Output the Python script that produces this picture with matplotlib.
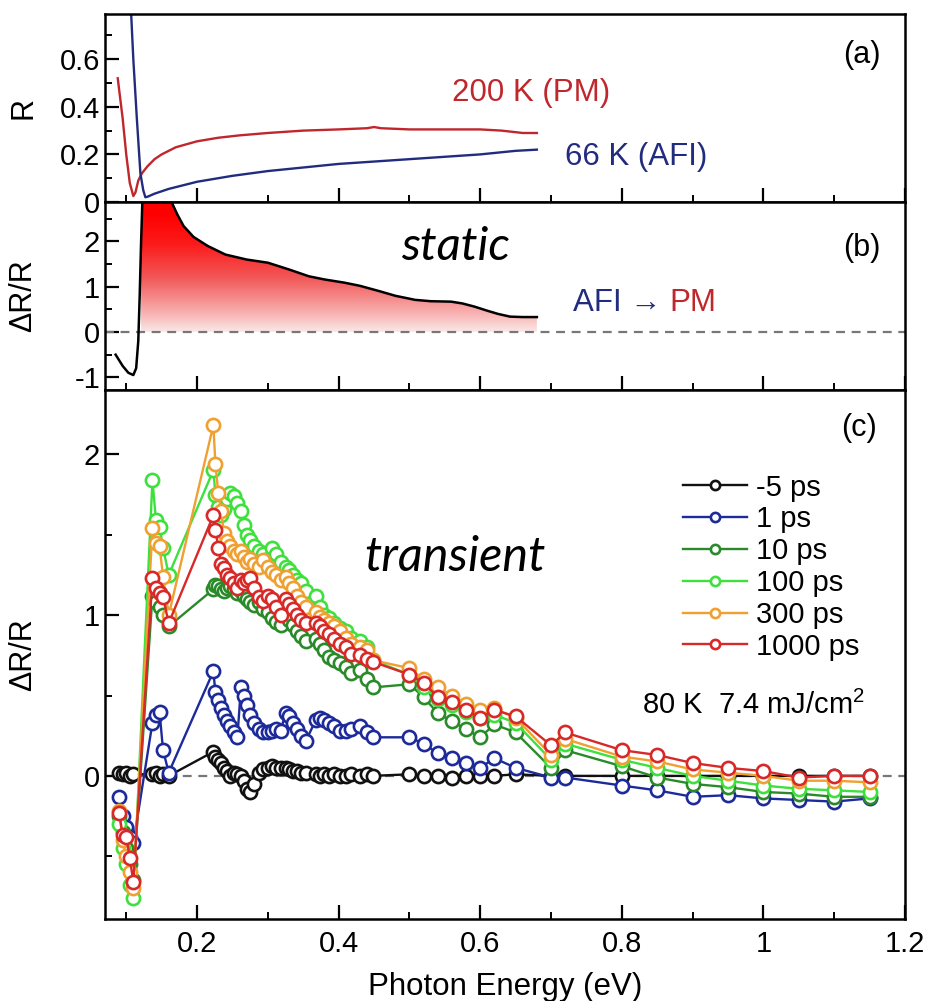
import numpy as np
import matplotlib
matplotlib.use("Agg")
import matplotlib.pyplot as plt
from matplotlib.colors import LinearSegmentedColormap
from matplotlib.ticker import MultipleLocator, FuncFormatter

plt.rcParams["font.family"] = ["Liberation Sans", "DejaVu Sans"]
plt.rcParams["mathtext.fontset"] = "custom"
plt.rcParams["mathtext.rm"] = "Liberation Sans"
plt.rcParams["axes.unicode_minus"] = False

# ---- panel (a): static reflectivity ----
e_pm = [0.088, 0.095, 0.100, 0.105, 0.110, 0.113, 0.117, 0.122, 0.130, 0.140, 0.150,
        0.170, 0.200, 0.230, 0.260, 0.300, 0.350, 0.400, 0.440, 0.450, 0.460, 0.500,
        0.550, 0.600, 0.630, 0.660, 0.680]
r_pm = [0.52, 0.35, 0.20, 0.08, 0.025, 0.04, 0.09, 0.12, 0.15, 0.18, 0.20,
        0.23, 0.255, 0.27, 0.28, 0.29, 0.30, 0.305, 0.31, 0.315, 0.31, 0.305,
        0.305, 0.305, 0.30, 0.29, 0.29]
e_afi = [0.106, 0.110, 0.115, 0.120, 0.124, 0.127, 0.130, 0.140, 0.160, 0.200, 0.250,
         0.300, 0.350, 0.400, 0.450, 0.500, 0.550, 0.600, 0.650, 0.680]
r_afi = [0.85, 0.60, 0.35, 0.12, 0.05, 0.02, 0.022, 0.035, 0.055, 0.085, 0.11,
         0.13, 0.145, 0.16, 0.17, 0.18, 0.19, 0.20, 0.215, 0.22]

# ---- panel (b): static dR/R ----
e_static = [0.085, 0.095, 0.103, 0.110, 0.114, 0.117, 0.119, 0.121, 0.123, 0.130, 0.140,
            0.150, 0.164, 0.172, 0.181, 0.195, 0.215, 0.240, 0.270, 0.300, 0.330, 0.358,
            0.380, 0.408, 0.430, 0.458, 0.480, 0.508, 0.530, 0.559, 0.575, 0.592, 0.610,
            0.625, 0.642, 0.660, 0.680]
dr_static = [-0.50, -0.75, -0.90, -0.95, -0.80, -0.20, 0.80, 2.00, 3.00, 4.00, 3.80,
             3.40, 2.87, 2.60, 2.34, 2.10, 1.90, 1.71, 1.60, 1.53, 1.38, 1.23,
             1.16, 1.09, 1.02, 0.90, 0.80, 0.71, 0.68, 0.67, 0.63, 0.56, 0.47,
             0.40, 0.34, 0.33, 0.33]

# ---- panel (c): transient dR/R ----
energy = [0.090, 0.095, 0.100, 0.105, 0.110,
          0.137, 0.142, 0.147, 0.152, 0.160,
          0.223, 0.226, 0.230, 0.234, 0.238, 0.242, 0.247, 0.252, 0.257,
          0.262, 0.266, 0.270, 0.275, 0.280, 0.287, 0.293, 0.300, 0.306, 0.312, 0.318,
          0.325, 0.330, 0.335, 0.341, 0.347, 0.354,
          0.368, 0.374, 0.380, 0.387, 0.394, 0.402, 0.410, 0.418, 0.430, 0.440, 0.448,
          0.50, 0.52, 0.54, 0.56, 0.58, 0.60, 0.62, 0.65, 0.70, 0.72,
          0.80, 0.85, 0.90, 0.95, 1.00, 1.05, 1.10, 1.15]

dr_m5ps = [0.02, 0.01, 0.02, 0.00, 0.01,
           0.01, 0.02, 0.00, 0.01, 0.00,
           0.15, 0.12, 0.10, 0.08, 0.05, 0.03, 0.00, 0.02, 0.01,
           0.00, -0.03, -0.08, -0.10, -0.05, 0.02, 0.04, 0.05, 0.06, 0.05, 0.05,
           0.05, 0.04, 0.03, 0.03, 0.02, 0.02,
           0.01, 0.00, 0.01, 0.00, 0.01, 0.00, 0.00, 0.01, 0.00, 0.01, 0.00,
           0.01, 0.00, 0.00, -0.01, 0.00, 0.00, 0.00, 0.01, 0.00, 0.00,
           0.00, 0.00, 0.00, 0.00, 0.00, 0.00, 0.00, 0.00]
dr_1ps = [-0.13, -0.25, -0.32, -0.38, -0.42,
          0.33, 0.38, 0.40, 0.16, 0.02,
          0.65, 0.52, 0.47, 0.42, 0.38, 0.34, 0.31, 0.27, 0.24,
          0.55, 0.50, 0.44, 0.38, 0.33, 0.29, 0.27, 0.27, 0.28, 0.29, 0.28,
          0.39, 0.37, 0.33, 0.29, 0.25, 0.22,
          0.35, 0.36, 0.35, 0.33, 0.31, 0.28, 0.28, 0.29, 0.31, 0.27, 0.24,
          0.24, 0.20, 0.14, 0.11, 0.08, 0.05, 0.11, 0.05, -0.01, -0.01,
          -0.06, -0.09, -0.13, -0.12, -0.14, -0.15, -0.16, -0.14]
dr_10ps = [-0.25, -0.35, -0.45, -0.55, -0.65,
           1.12, 1.08, 1.05, 1.00, 0.93,
           1.16, 1.19, 1.18, 1.16, 1.15, 1.17, 1.18, 1.16, 1.14,
           1.15, 1.12, 1.10, 1.08, 1.06, 1.08, 1.04, 1.02, 0.98, 0.96, 0.94,
           1.00, 0.97, 0.94, 0.90, 0.87, 0.84,
           0.85, 0.82, 0.78, 0.74, 0.72, 0.70, 0.68, 0.64, 0.66, 0.60, 0.55,
           0.57, 0.49, 0.39, 0.34, 0.29, 0.24, 0.32, 0.27, 0.05, 0.16,
           0.06, -0.01, -0.05, -0.07, -0.10, -0.11, -0.13, -0.13]
dr_100ps = [-0.30, -0.45, -0.55, -0.68, -0.76,
            1.84, 1.59, 1.55, 1.42, 1.25,
            1.90, 1.75, 1.67, 1.62, 1.66, 1.72, 1.76, 1.74, 1.70,
            1.65, 1.56, 1.50, 1.47, 1.43, 1.40, 1.38, 1.35, 1.42, 1.38, 1.33,
            1.30, 1.28, 1.25, 1.22, 1.20, 1.15,
            1.12, 1.05, 1.00, 0.98, 0.95, 0.92, 0.90, 0.86, 0.84, 0.80, 0.72,
            0.63, 0.55, 0.48, 0.44, 0.40, 0.36, 0.38, 0.33, 0.10, 0.20,
            0.10, 0.05, 0.00, -0.03, -0.06, -0.08, -0.09, -0.10]
dr_300ps = [-0.22, -0.40, -0.50, -0.60, -0.70,
            1.54, 1.45, 1.43, 1.24, 1.00,
            2.18, 1.94, 1.76, 1.65, 1.51, 1.46, 1.43, 1.40, 1.38,
            1.40, 1.36, 1.33, 1.35, 1.32, 1.30, 1.34, 1.30, 1.27, 1.25, 1.22,
            1.24, 1.20, 1.17, 1.12, 1.08, 1.05,
            1.02, 0.99, 0.97, 0.95, 0.93, 0.90, 0.86, 0.82, 0.80, 0.78, 0.72,
            0.67, 0.60, 0.55, 0.50, 0.45, 0.41, 0.42, 0.36, 0.13, 0.23,
            0.12, 0.09, 0.04, 0.02, 0.00, -0.03, -0.03, -0.04]
dr_1000ps = [-0.23, -0.37, -0.38, -0.51, -0.66,
             1.23, 1.17, 1.14, 1.11, 0.95,
             1.62, 1.53, 1.42, 1.32, 1.29, 1.25, 1.23, 1.20, 1.17,
             1.22, 1.20, 1.22, 1.23, 1.17, 1.11, 1.09, 1.12, 1.10, 1.05, 1.00,
             1.10, 1.07, 1.04, 1.00, 0.97, 0.95,
             0.95, 0.93, 0.90, 0.88, 0.85, 0.82, 0.80, 0.76, 0.75, 0.73, 0.71,
             0.63, 0.58, 0.49, 0.46, 0.41, 0.36, 0.41, 0.37, 0.19, 0.27,
             0.16, 0.13, 0.08, 0.05, 0.03, -0.01, 0.00, 0.00]

delays = ["-5 ps", "1 ps", "10 ps", "100 ps", "300 ps", "1000 ps"]
series = [dr_m5ps, dr_1ps, dr_10ps, dr_100ps, dr_300ps, dr_1000ps]
colors = ["#111111", "#1c2a9a", "#2a8a2a", "#3ee03e", "#f0a030", "#d82828"]

RED = "#c0272d"
NAVY = "#222c7e"

fmt = FuncFormatter(lambda v, pos: "%g" % round(v, 3))


def style_axis(ax):
    for sp in ax.spines.values():
        sp.set_linewidth(1.8)
    ax.tick_params(axis="both", which="major", direction="in", length=10, width=1.6,
                   labelsize=21, top=False, right=False)
    ax.tick_params(axis="x", which="major", pad=8)
    ax.tick_params(axis="both", which="minor", direction="in", length=5, width=1.4,
                   top=False, right=False)
    ax.xaxis.set_major_locator(MultipleLocator(0.2))
    ax.xaxis.set_minor_locator(MultipleLocator(0.1))
    ax.xaxis.set_major_formatter(fmt)
    ax.yaxis.set_major_formatter(fmt)
    ax.set_xlim(0.07, 1.2)


fig = plt.figure(figsize=(9.3, 10.01), dpi=100)
gs = fig.add_gridspec(3, 1, height_ratios=[188, 188, 529], hspace=0,
                      left=105 / 930, right=905 / 930, top=1 - 14 / 1001, bottom=1 - 919 / 1001)
ax_a = fig.add_subplot(gs[0])
ax_b = fig.add_subplot(gs[1], sharex=ax_a)
ax_c = fig.add_subplot(gs[2], sharex=ax_a)

# (a)
ax_a.plot(e_pm, r_pm, color=RED, lw=1.7)
ax_a.plot(e_afi, r_afi, color=NAVY, lw=1.7)
ax_a.set_ylim(0, 0.79)
ax_a.yaxis.set_major_locator(MultipleLocator(0.2))
ax_a.yaxis.set_minor_locator(MultipleLocator(0.1))
ax_a.set_ylabel("R", fontsize=22)
ax_a.text(0.5325, 0.58, "200 K (PM)", color=RED, fontsize=22.5, ha="center", va="center",
          transform=ax_a.transAxes)
ax_a.text(0.664, 0.239, "66 K (AFI)", color=NAVY, fontsize=22.5, ha="center", va="center",
          transform=ax_a.transAxes)
ax_a.text(0.946, 0.782, "(a)", fontsize=22, ha="center", va="center", transform=ax_a.transAxes)

# (b)
e_s = np.array(e_static)
d_s = np.array(dr_static)
mask = e_s >= 0.12
grad = LinearSegmentedColormap.from_list(
    "grad", [(0.0, "#fbe8e8"), (0.15, "#f8b4b4"), (0.45, "#f25a5a"), (0.75, "#fc1a1a"), (1.0, "#ff0000")])
poly = ax_b.fill_between(e_s[mask], 0, d_s[mask], color="none")
img = ax_b.imshow(np.linspace(0, 1, 256).reshape(-1, 1), cmap=grad, aspect="auto",
                  origin="lower", extent=(0.07, 0.7, 0, 2.6), zorder=1)
img.set_clip_path(poly.get_paths()[0], transform=ax_b.transData)
ax_b.fill_between(e_s[mask], 2.6, np.maximum(d_s[mask], 2.6), color="#ff0000", lw=0, zorder=1)
ax_b.axhline(0, color="#777777", lw=1.6, ls=(0, (4, 3)), zorder=2)
ax_b.plot(e_static, dr_static, color="black", lw=1.8, zorder=3)
ax_b.set_ylim(-1.28, 2.87)
ax_b.set_xlim(0.07, 1.2)
ax_b.yaxis.set_major_locator(MultipleLocator(1))
ax_b.yaxis.set_minor_locator(MultipleLocator(0.5))
ax_b.set_ylabel("ΔR/R", fontsize=22)
ax_b.text(0.4375, 0.76, "static", fontsize=34, style="italic", family=["Lato", "DejaVu Sans"],
          ha="center", va="center", transform=ax_b.transAxes)
ax_b.text(0.706, 0.463, "AFI → ", color=NAVY, fontsize=22.5, ha="right", va="center",
          transform=ax_b.transAxes)
ax_b.text(0.706, 0.463, "PM", color=RED, fontsize=22.5, ha="left", va="center",
          transform=ax_b.transAxes)
ax_b.text(0.946, 0.755, "(b)", fontsize=22, ha="center", va="center", transform=ax_b.transAxes)

# (c)
ax_c.axhline(0, color="#777777", lw=1.6, ls=(0, (4, 3)), zorder=1)
for label, vals, col in zip(delays, series, colors):
    ax_c.plot(energy, vals, "-o", color=col, lw=1.7, ms=9.5, mew=1.9, mfc="white",
              mec=col, label=label, zorder=3)
ax_c.set_ylim(-0.89, 2.4)
ax_c.yaxis.set_major_locator(MultipleLocator(1))
ax_c.yaxis.set_minor_locator(MultipleLocator(0.5))
ax_c.set_ylabel("ΔR/R", fontsize=22)
ax_c.set_xlabel("Photon Energy (eV)", fontsize=22.5, labelpad=10)
ax_c.text(0.4375, 0.684, "transient", fontsize=35, style="italic", family=["Lato", "DejaVu Sans"],
          ha="center", va="center", transform=ax_c.transAxes)
ax_c.text(0.811, 0.4045, "80 K  7.4 mJ/cm$^2$", fontsize=21, ha="center", va="center",
          transform=ax_c.transAxes)
ax_c.text(0.9425, 0.928, "(c)", fontsize=22, ha="center", va="center", transform=ax_c.transAxes)
ax_c.legend(loc="upper left", bbox_to_anchor=(0.7225, 0.842), frameon=False, fontsize=21,
            handlelength=2.2, handletextpad=0.3, labelspacing=0.13, borderpad=0,
            borderaxespad=0, markerscale=0.7)

for ax in (ax_a, ax_b, ax_c):
    style_axis(ax)
    ax.yaxis.set_label_coords(-0.083, 0.5)
plt.setp(ax_a.get_xticklabels(), visible=False)
plt.setp(ax_b.get_xticklabels(), visible=False)

fig.savefig("out.png", dpi=100)
